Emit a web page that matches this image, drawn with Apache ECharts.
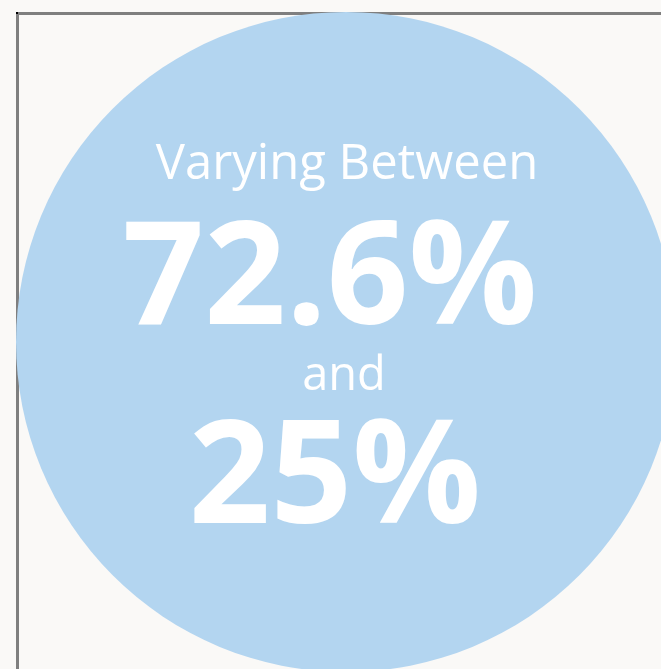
<!DOCTYPE html>
<html>
<head>
<meta charset="utf-8">
<script src="https://cdn.jsdelivr.net/npm/echarts@6/dist/echarts.min.js"></script>
<style>
html,body{margin:0;padding:0;background:#faf9f7;}
#chart{width:661px;height:669px;}
</style>
</head>
<body>
<div id="chart"></div>
<script>
// Data
const headline = 'Varying Between';
const connector = 'and';
const rangeValues = [72.6, 25];          // upper and lower bound (%)
const circleCategories = ['Range'];
const circleValues = [100];

const fmt = v => v + '%';

const chart = echarts.init(document.getElementById('chart'), null, {renderer: 'canvas'});
chart.setOption({
  backgroundColor: '#faf9f7',
  animation: false,
  graphic: [
    {type: 'rect', z: 0, shape: {x: 16, y: 12, width: 3, height: 660}, style: {fill: '#7f7f7f'}},
    {type: 'rect', z: 0, shape: {x: 16, y: 12, width: 650, height: 3}, style: {fill: '#7f7f7f'}},
    {type: 'rect', z: 0, shape: {x: 16, y: 12, width: 2, height: 2}, style: {fill: '#000000'}},
    {type: 'text', z: 100, x: 347, y: 165, style: {text: headline, fill: '#ffffff', font: '49px "Open Sans"', textAlign: 'center', textVerticalAlign: 'middle'}},
    {type: 'text', z: 100, x: 330, y: 283, style: {text: fmt(rangeValues[0]), fill: '#ffffff', font: 'bold 143px "Open Sans"', textAlign: 'center', textVerticalAlign: 'middle'}},
    {type: 'text', z: 100, x: 344, y: 377, style: {text: connector, fill: '#ffffff', font: '47px "Open Sans"', textAlign: 'center', textVerticalAlign: 'middle'}},
    {type: 'text', z: 100, x: 335, y: 482, style: {text: fmt(rangeValues[1]), fill: '#ffffff', font: 'bold 143px "Open Sans"', textAlign: 'center', textVerticalAlign: 'middle'}}
  ],
  series: [{
    type: 'pie',
    z: 2,
    silent: true,
    center: [346, 342],
    radius: [0, 330],
    label: {show: false},
    labelLine: {show: false},
    itemStyle: {color: '#b3d5f0', borderWidth: 0},
    emphasis: {disabled: true},
    data: circleCategories.map((c, i) => ({name: c, value: circleValues[i]}))
  }]
});
</script>
</body>
</html>
